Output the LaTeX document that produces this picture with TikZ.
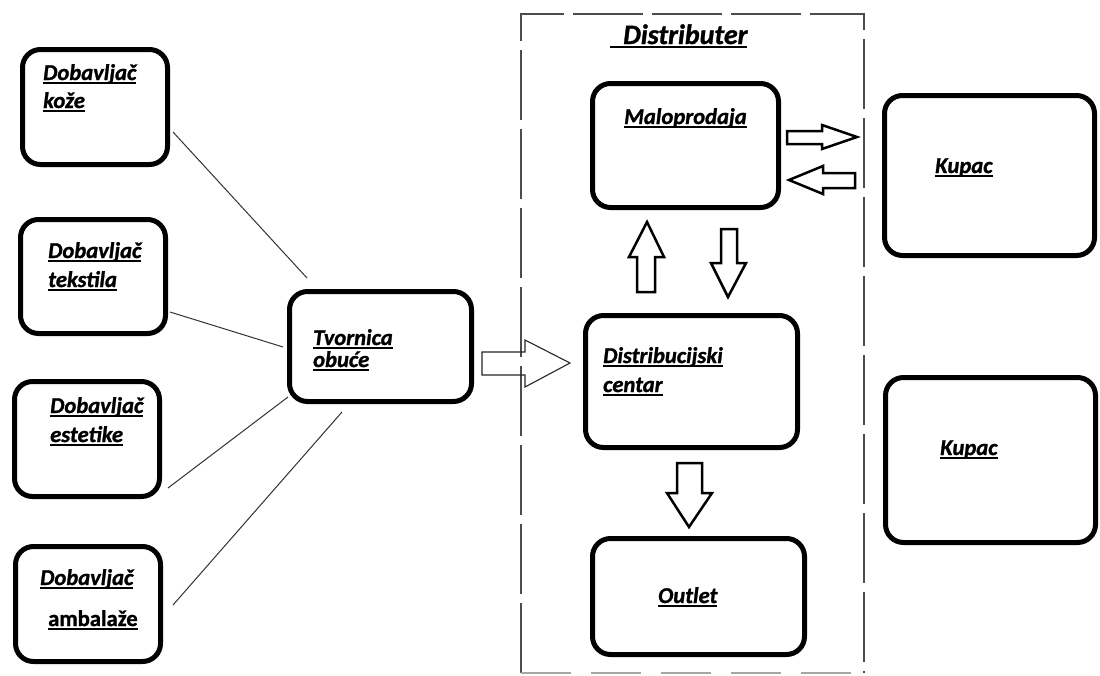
\documentclass[tikz,border=0pt]{standalone}
\usepackage{fontspec}
\setmainfont{Carlito}[FakeBold=1.2]
\usetikzlibrary{fit}
\newcommand\ulx[1]{\setbox0=\hbox{#1}\rlap{\rule[-3.5pt]{\wd0}{1.8pt}}\box0}
\tikzset{
  box/.style={draw=black, line width=5pt, rounded corners=18pt, inner sep=0pt},
  lbl/.style={inner sep=0pt, anchor=base west, font=\fontsize{22.6}{26}\selectfont\bfseries\itshape},
  lblup/.style={inner sep=0pt, anchor=base west, font=\fontsize{22.6}{26}\selectfont\bfseries},
  thinline/.style={draw=black!80, line width=1pt},
  dashbox/.style={draw=black!70, line width=1.3pt, dash pattern=on 70pt off 9pt},
  dashfaint/.style={draw=black!35, line width=1.2pt, dash pattern=on 50pt off 20pt},
  barrow/.style={draw=black, line width=2.5pt, line join=miter},
  tarrow/.style={draw=black!85, line width=1.1pt, line join=miter},
}
\begin{document}
\begin{tikzpicture}[x=1pt,y=-1pt]
\useasboundingbox[fill=white] (0,0) rectangle (1100,675);
% dashed distributor frame
\coordinate (fbl) at (521,673); \coordinate (ftl) at (521,14);
\coordinate (ftr) at (864,14); \coordinate (fbr) at (864,673);
\draw[dashbox] (fbl) -- (ftl) -- (ftr) -- (fbr);
\draw[dashfaint] (fbl) -- (fbr);
% boxes
\node[box, fit={(22.5,49.5) (167.5,164.5)}] (koze) {};
\node[box, fit={(20.5,219.5) (165.5,333.5)}] (tekstil) {};
\node[box, fit={(14.5,381.5) (159.5,496.5)}] (estet) {};
\node[box, fit={(15.5,546.5) (160.5,661.5)}] (ambal) {};
\node[box, fit={(289.5,291.5) (471.5,401.5)}] (tvorn) {};
\node[box, fit={(592.5,83.5) (778.5,207.5)}] (malo) {};
\node[box, fit={(585.5,315.5) (797.5,447.5)}] (dc) {};
\node[box, fit={(592.5,538.5) (804.5,654.5)}] (outlet) {};
\node[box, fit={(884.5,95.5) (1094.5,255.5)}] (kupac1) {};
\node[box, fit={(885.5,377.5) (1095.5,542.5)}] (kupac2) {};
% labels
\node[lbl] (t1a) at (43,80) {\ulx{Dobavljač}};
\node[lbl] (t1b) at (43,108) {\ulx{kože}};
\node[lbl] (t2a) at (48,258) {\ulx{Dobavljač}};
\node[lbl] (t2b) at (48,287) {\ulx{tekstila}};
\node[lbl] (t3a) at (50,413) {\ulx{Dobavljač}};
\node[lbl] (t3b) at (50,442) {\ulx{estetike}};
\node[lbl] (t4a) at (40,585) {\ulx{Dobavljač}};
\node[lblup] (t4b) at (48,626) {\ulx{ambalaže}};
\node[lbl] (t5a) at (313,345) {\ulx{Tvornica}};
\node[lbl] (t5b) at (313,367) {\ulx{obuće}};
\node[lbl, font=\fontsize{28}{32}\selectfont\bfseries\itshape] (tdist) at (610,44) {\ulx{\hspace{13pt}Distributer}};
\node[lbl] (t6) at (624,124) {\ulx{Maloprodaja}};
\node[lbl] (t7a) at (603,363) {\ulx{Distribucijski}};
\node[lbl] (t7b) at (603,392) {\ulx{centar}};
\node[lbl] (t8) at (658,603) {\ulx{Outlet}};
\node[lbl] (t9) at (935,173) {\ulx{Kupac}};
\node[lbl] (t10) at (940,455) {\ulx{Kupac}};
% supplier connectors
\coordinate (c1a) at (173,132); \coordinate (c1b) at (307,278);
\coordinate (c2a) at (170,312); \coordinate (c2b) at (283,347);
\coordinate (c3a) at (168,488); \coordinate (c3b) at (288,397);
\coordinate (c4a) at (173,605); \coordinate (c4b) at (342,412);
\draw[thinline] (c1a) -- (c1b);
\draw[thinline] (c2a) -- (c2b);
\draw[thinline] (c3a) -- (c3b);
\draw[thinline] (c4a) -- (c4b);
% block arrows
\draw[tarrow] (482,352) -- (525,352) -- (525,340) -- (570,363) -- (525,387) -- (525,375) -- (482,375) -- cycle;
\draw[barrow] (787,131) -- (822,131) -- (822,125) -- (857,137) -- (822,149) -- (822,144) -- (787,144) -- cycle;
\draw[barrow] (855,173) -- (823,173) -- (823,166) -- (789,180) -- (823,194) -- (823,188) -- (855,188) -- cycle;
\draw[barrow] (637,292) -- (637,257) -- (629,257) -- (647,222) -- (664,257) -- (655,257) -- (655,292) -- cycle;
\draw[barrow] (721,229) -- (737,229) -- (737,263) -- (746,263) -- (728,297) -- (711,263) -- (721,263) -- cycle;
\draw[barrow] (677,463) -- (702,463) -- (702,493) -- (712,493) -- (689,527) -- (667,493) -- (677,493) -- cycle;
\end{tikzpicture}
\end{document}
